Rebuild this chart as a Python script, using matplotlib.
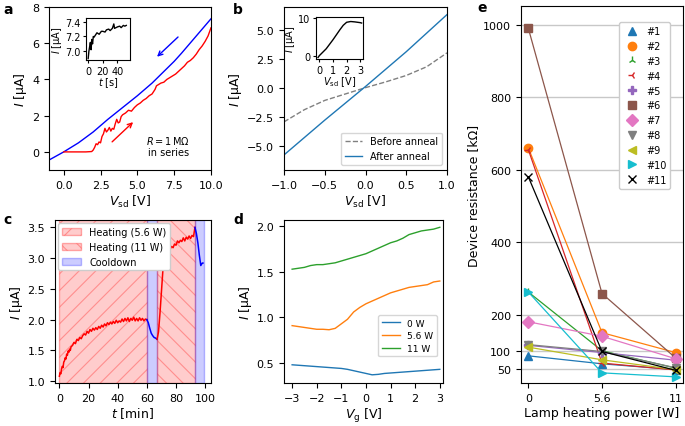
import matplotlib
matplotlib.use("Agg")
import matplotlib.pyplot as plt
from matplotlib.patches import Patch
from matplotlib.lines import Line2D

plt.rcParams["font.size"] = 8
plt.rcParams["axes.labelsize"] = 9
plt.rcParams["xtick.labelsize"] = 8
plt.rcParams["ytick.labelsize"] = 8
plt.rcParams["hatch.linewidth"] = 0.8

# ---- panel a: I-V sweep with 1 MOhm in series
a_up_v = [0.0, 0.5, 1.0, 1.5, 1.9, 2.0, 2.1, 2.2, 2.3, 2.4, 2.5, 2.6, 2.7, 2.8, 2.9,
          3.0, 3.1, 3.2, 3.3, 3.4, 3.5, 3.6, 3.7, 3.8, 3.9, 4.0, 4.2, 4.4, 4.6, 4.8,
          5.0, 5.2, 5.4, 5.6, 5.8, 6.0, 6.2, 6.3, 6.4, 6.6, 6.8, 7.0, 7.2, 7.4, 7.6,
          7.8, 8.0, 8.2, 8.4, 8.6, 8.8, 9.0, 9.2, 9.4, 9.6, 9.8, 10.0]
a_up_i = [0.0, 0.0, 0.0, 0.0, 0.02, 0.1, 0.25, 0.45, 0.4, 0.55, 0.5, 0.85, 1.0, 1.3, 1.1,
          1.2, 1.35, 1.15, 1.3, 1.25, 1.55, 1.8, 1.6, 1.65, 1.95, 2.05, 2.15, 2.3, 2.25, 2.45,
          2.6, 2.7, 2.85, 2.95, 3.1, 3.2, 3.45, 3.65, 3.7, 3.8, 3.85, 4.0, 4.1, 4.2, 4.3,
          4.45, 4.6, 4.75, 4.95, 5.05, 5.2, 5.4, 5.65, 5.85, 6.1, 6.4, 6.85]
a_down_v = [-1.0, 0.0, 1.0, 2.0, 2.5, 3.0, 4.0, 5.0, 6.0, 7.0, 7.5, 8.0, 9.0, 10.0]
a_down_i = [-0.45, 0.0, 0.5, 1.1, 1.45, 1.8, 2.45, 3.1, 3.8, 4.6, 5.0, 5.45, 6.4, 7.35]
a_in_t = [0, 1, 2, 3, 4, 5, 6, 7, 8, 10, 12, 15, 18, 20, 23, 25, 28, 30, 33, 35,
          36, 38, 40, 43, 45, 48, 50, 52]
a_in_i = [6.9, 7.0, 7.06, 7.12, 7.02, 7.16, 7.1, 7.2, 7.19, 7.22, 7.25, 7.23, 7.27, 7.27,
          7.26, 7.29, 7.3, 7.28, 7.31, 7.37, 7.31, 7.32, 7.33, 7.34, 7.32, 7.35, 7.34, 7.35]

# ---- panel b: before / after anneal
b_v = [-1.0, -0.75, -0.5, -0.25, 0.0, 0.25, 0.5, 0.75, 1.0]
b_before = [-2.95, -1.9, -1.1, -0.55, 0.0, 0.5, 1.05, 1.8, 3.0]
b_after = [-5.8, -4.3, -2.8, -1.35, 0.1, 1.6, 3.1, 4.7, 6.3]
b_in_v = [-0.1, 0.0, 0.25, 0.5, 0.75, 1.0, 1.25, 1.5, 1.75, 2.0, 2.3, 2.6, 3.0, 3.1]
b_in_i = [-0.5, 0.0, 0.9, 1.8, 3.0, 4.2, 5.5, 6.8, 8.0, 8.8, 9.0, 8.9, 8.7, 8.6]

# ---- panel c: current during heating
c_t1 = [0, 0.5, 1, 1.5, 2, 2.5, 3, 3.5, 4, 4.5, 5, 5.5, 6, 6.5, 7, 7.5, 8, 9, 10, 11,
        12, 13, 14, 15, 16, 17, 18, 19, 20, 21, 22, 23, 24, 25, 26, 27, 28, 29, 30, 31,
        32, 33, 34, 35, 36, 37, 38, 39, 40, 41, 42, 43, 44, 45, 46, 47, 48, 49, 50, 51,
        52, 53, 54, 55, 56, 57, 58, 59, 60]
c_i1 = [1.08, 1.14, 1.12, 1.20, 1.24, 1.22, 1.31, 1.33, 1.38, 1.36, 1.44, 1.42, 1.49,
        1.47, 1.52, 1.50, 1.56, 1.58, 1.63, 1.61, 1.68, 1.66, 1.71, 1.69, 1.74, 1.77,
        1.75, 1.81, 1.78, 1.84, 1.81, 1.86, 1.83, 1.87, 1.84, 1.89, 1.86, 1.91, 1.88,
        1.93, 1.90, 1.95, 1.92, 1.96, 1.93, 1.97, 1.94, 1.99, 1.95, 1.98, 1.96, 2.01,
        1.97, 2.02, 1.98, 2.03, 1.97, 2.02, 1.99, 2.04, 1.98, 2.02, 1.98, 2.03, 1.99,
        2.02, 1.98, 2.01, 2.00]
c_t2 = [60, 61, 62, 63, 64, 65, 66, 67]
c_i2 = [2.00, 1.95, 1.86, 1.78, 1.74, 1.71, 1.70, 1.68]
c_t3 = list(range(67, 94))
c_i3 = [1.68, 1.80, 2.10, 2.45, 2.80, 2.95, 3.02, 3.08, 3.12, 3.15, 3.19, 3.17, 3.23,
        3.21, 3.28, 3.25, 3.29, 3.27, 3.33, 3.28, 3.34, 3.31, 3.36, 3.32, 3.37, 3.35, 3.50]
c_t4 = [93, 94, 95, 96, 97, 98, 98.5]
c_i4 = [3.50, 3.40, 3.25, 3.05, 2.88, 2.92, 2.92]
c_spans = [(0, 60), (60, 67), (67, 93), (93, 99)]

# ---- panel d: gate sweeps
d_vg = [-3, -2.75, -2.5, -2.25, -2, -1.75, -1.5, -1.25, -1, -0.75, -0.5, -0.25, 0,
        0.25, 0.5, 0.75, 1, 1.25, 1.5, 1.75, 2, 2.25, 2.5, 2.75, 3]
d_0w = [0.48, 0.475, 0.47, 0.465, 0.46, 0.455, 0.45, 0.445, 0.44, 0.43, 0.415, 0.40,
        0.385, 0.37, 0.375, 0.385, 0.39, 0.395, 0.40, 0.405, 0.41, 0.415, 0.42, 0.425, 0.43]
d_56w = [0.91, 0.90, 0.89, 0.88, 0.87, 0.87, 0.865, 0.88, 0.93, 0.98, 1.06, 1.11, 1.15,
         1.18, 1.21, 1.24, 1.27, 1.29, 1.31, 1.33, 1.34, 1.35, 1.36, 1.39, 1.40]
d_11w = [1.53, 1.54, 1.55, 1.57, 1.58, 1.58, 1.59, 1.60, 1.62, 1.64, 1.66, 1.68, 1.70,
         1.73, 1.76, 1.79, 1.82, 1.84, 1.87, 1.91, 1.93, 1.95, 1.96, 1.97, 1.99]

# ---- panel e: device resistance vs lamp power
e_power = ["0", "5.6", "11"]
e_devices = ["#1", "#2", "#3", "#4", "#5", "#6", "#7", "#8", "#9", "#10", "#11"]
e_res = [
    [86, 64, 48],
    [660, 150, 95],
    [262, 100, 52],
    [655, 66, 47],
    [115, 95, 74],
    [990, 258, 80],
    [180, 140, 78],
    [117, 98, 53],
    [110, 75, 48],
    [262, 39, 28],
    [580, 98, 46],
]
e_markers = ["^", "o", "2", "3", "P", "s", "D", "v", "<", ">", "x"]
e_colors = ["C0", "C1", "C2", "C3", "C4", "C5", "C6", "C7", "C8", "C9", "k"]

fig = plt.figure(figsize=(6.85, 4.27), dpi=100)
ax_a = fig.add_axes([0.0715, 0.5995, 0.2365, 0.3817])
ax_b = fig.add_axes([0.4146, 0.5995, 0.238, 0.3817])
ax_c = fig.add_axes([0.0803, 0.1007, 0.2277, 0.3817])
ax_d = fig.add_axes([0.4146, 0.1007, 0.2321, 0.3817])
ax_e = fig.add_axes([0.7606, 0.1007, 0.2365, 0.8829])

# a
ax_a.plot(a_down_v, a_down_i, color="blue", lw=1)
ax_a.plot(a_up_v, a_up_i, color="red", lw=1)
ax_a.annotate("", xy=(6.2, 5.15), xytext=(7.9, 6.45),
              arrowprops=dict(arrowstyle="->", color="blue", lw=1))
ax_a.annotate("", xy=(4.85, 1.75), xytext=(3.15, 0.45),
              arrowprops=dict(arrowstyle="->", color="red", lw=1))
ax_a.text(7.1, 0.35, "$R = 1\\,\\mathrm{M\\Omega}$\nin series", ha="center", va="center",
          fontsize=7, linespacing=1.1)
ax_a.set_xlim(-1, 10)
ax_a.set_ylim(-1, 8)
ax_a.set_xticks([0, 2.5, 5, 7.5, 10])
ax_a.set_yticks([0, 2, 4, 6, 8])
ax_a.set_xlabel("$V_\\mathrm{sd}$ [V]", labelpad=2)
ax_a.set_ylabel("$I$ [µA]", labelpad=2)

ins_a = fig.add_axes([0.1255, 0.857, 0.0642, 0.0984])
ins_a.plot(a_in_t, a_in_i, color="black", lw=1)
ins_a.set_xlim(-3, 57)
ins_a.set_ylim(6.88, 7.45)
ins_a.set_xticks([0, 20, 40])
ins_a.set_yticks([7.0, 7.2, 7.4])
ins_a.tick_params(labelsize=7, length=2.5, pad=1.5)
ins_a.set_xlabel("$t$ [s]", fontsize=7, labelpad=0)
ins_a.set_ylabel("$I$ [µA]", fontsize=7, labelpad=1)

# b
ax_b.plot(b_v, b_before, color="gray", ls="--", lw=1, label="Before anneal")
ax_b.plot(b_v, b_after, color="C0", lw=1, label="After anneal")
ax_b.set_xlim(-1, 1)
ax_b.set_ylim(-7.1, 6.95)
ax_b.set_yticks([-5, -2.5, 0, 2.5, 5])
ax_b.set_xlabel("$V_\\mathrm{sd}$ [V]", labelpad=2)
ax_b.set_ylabel("$I$ [µA]", labelpad=2)
ax_b.legend(loc="lower right", fontsize=7, handlelength=1.8)

ins_b = fig.add_axes([0.4613, 0.8595, 0.0686, 0.0984])
ins_b.plot(b_in_v, b_in_i, color="black", lw=1)
ins_b.set_xlim(-0.25, 3.2)
ins_b.set_ylim(-0.9, 10.2)
ins_b.set_xticks([0, 1, 2, 3])
ins_b.set_yticks([0, 10])
ins_b.tick_params(labelsize=7, length=2.5, pad=1.5)
ins_b.set_xlabel("$V_\\mathrm{sd}$ [V]", fontsize=7, labelpad=0)
ins_b.set_ylabel("$I$ [µA]", fontsize=7, labelpad=1)

# c
heat_face = (1, 0, 0, 0.2)
heat_edge = (1, 0, 0, 0.3)
cool_face = (0, 0, 1, 0.2)
cool_edge = (0, 0, 1, 0.25)
span_styles = [dict(facecolor=heat_face, edgecolor=heat_edge, hatch="//"),
               dict(facecolor=cool_face, edgecolor=cool_edge),
               dict(facecolor=heat_face, edgecolor=heat_edge, hatch="\\\\"),
               dict(facecolor=cool_face, edgecolor=cool_edge)]
for (t0, t1), st in zip(c_spans, span_styles):
    ax_c.axvspan(t0, t1, lw=1, **st)
ax_c.plot(c_t1, c_i1, color="red", lw=1.1)
ax_c.plot(c_t2, c_i2, color="blue", lw=1.1)
ax_c.plot(c_t3, c_i3, color="red", lw=1.1)
ax_c.plot(c_t4, c_i4, color="blue", lw=1.1)
ax_c.set_xlim(-3, 104)
ax_c.set_ylim(0.97, 3.62)
ax_c.set_xticks([0, 20, 40, 60, 80, 100])
ax_c.set_xlabel("$t$ [min]", labelpad=2)
ax_c.set_ylabel("$I$ [µA]", labelpad=2)
c_handles = [Patch(facecolor=heat_face, edgecolor=heat_edge, hatch="//", label="Heating (5.6 W)"),
             Patch(facecolor=heat_face, edgecolor=heat_edge, hatch="\\\\", label="Heating (11 W)"),
             Patch(facecolor=cool_face, edgecolor=cool_edge, label="Cooldown")]
ax_c.legend(handles=c_handles, loc="upper left", fontsize=7, framealpha=1,
            borderaxespad=0.3)

# d
ax_d.plot(d_vg, d_0w, color="C0", lw=1, label="0 W")
ax_d.plot(d_vg, d_56w, color="C1", lw=1, label="5.6 W")
ax_d.plot(d_vg, d_11w, color="C2", lw=1, label="11 W")
ax_d.set_xlim(-3.33, 3.13)
ax_d.set_ylim(0.28, 2.07)
ax_d.set_xticks([-3, -2, -1, 0, 1, 2, 3])
ax_d.set_yticks([0.5, 1.0, 1.5, 2.0])
ax_d.set_xlabel("$V_\\mathrm{g}$ [V]", labelpad=2)
ax_d.set_ylabel("$I$ [µA]", labelpad=2)
ax_d.legend(loc="center right", bbox_to_anchor=(0.99, 0.29), fontsize=6.5,
            handlelength=2.0, borderpad=0.4, labelspacing=0.4)

# e
xs = list(range(len(e_power)))
for name, r, m, col in zip(e_devices, e_res, e_markers, e_colors):
    ax_e.plot(xs, r, color=col, lw=0.9, marker=m, ms=6, zorder=3)
ax_e.set_yticks([50, 100, 200, 400, 600, 800, 1000])
ax_e.yaxis.grid(True, color="#c8c8c8", lw=1)
ax_e.set_axisbelow(True)
ax_e.set_xticks(xs)
ax_e.set_xticklabels(e_power)
ax_e.set_xlim(-0.1, 2.1)
ax_e.set_ylim(11, 1052)
ax_e.set_xlabel("Lamp heating power [W]", labelpad=2)
ax_e.set_ylabel("Device resistance [kΩ]", labelpad=2)
e_handles = [Line2D([], [], ls="none", marker=m, color=col, ms=6, label=name)
             for name, m, col in zip(e_devices, e_markers, e_colors)]
ax_e.legend(handles=e_handles, loc="upper right", bbox_to_anchor=(0.95, 0.97),
            fontsize=7, framealpha=1, handletextpad=0.4)

for lab, x, y in [("a", 3, 3), ("b", 233, 3), ("c", 3, 213), ("d", 233, 213), ("e", 477, 1)]:
    fig.text(x / 685, 1 - y / 427, lab, fontsize=10, fontweight="bold", va="top", ha="left")

fig.savefig("out.png", dpi=100)
